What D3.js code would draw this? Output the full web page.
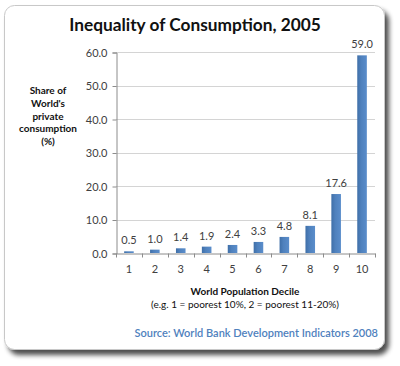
<!DOCTYPE html>
<html><head><meta charset="utf-8">
<script src="https://cdn.jsdelivr.net/npm/d3@7"></script>
<style>body{margin:0;background:#fff;}svg{display:block;font-family:Lato,"Open Sans",sans-serif;}</style>
</head><body>
<svg id="c" width="400" height="366"></svg>
<script>
const deciles = ["1","2","3","4","5","6","7","8","9","10"];
const shares = [0.5, 1.0, 1.4, 1.9, 2.4, 3.3, 4.8, 8.1, 17.6, 59.0];
const yTicks = [0, 10, 20, 30, 40, 50, 60];
const yTitle = ["Share of", "World's", "private", "consumption", "(%)"];

const svg = d3.select("#c");
const defs = svg.append("defs");
const f = defs.append("filter").attr("id","sh").attr("x","-10%").attr("y","-10%").attr("width","130%").attr("height","130%");
f.append("feGaussianBlur").attr("in","SourceAlpha").attr("stdDeviation",2.5);
f.append("feOffset").attr("dx",4).attr("dy",5).attr("result","ob");
f.append("feComponentTransfer").append("feFuncA").attr("type","linear").attr("slope",0.7);
const m = f.append("feMerge"); m.append("feMergeNode"); m.append("feMergeNode").attr("in","SourceGraphic");
const g1 = defs.append("linearGradient").attr("id","bg").attr("x1",0).attr("x2",1).attr("y1",0).attr("y2",0);
g1.append("stop").attr("offset","0%").attr("stop-color","#3f6fa8");
g1.append("stop").attr("offset","40%").attr("stop-color","#4f81bd");
g1.append("stop").attr("offset","100%").attr("stop-color","#5a8dcb");

svg.append("rect").attr("x",4.5).attr("y",5.5).attr("width",380).attr("height",344).attr("rx",10)
  .attr("fill","#fff").attr("stroke","#c8c8c8").attr("filter","url(#sh)");

svg.append("text").attr("x",195).attr("y",31).attr("text-anchor","middle")
  .attr("font-size",17.3).attr("font-weight",700).attr("fill","#111").text("Inequality of Consumption, 2005");

const x = d3.scaleBand().domain(deciles).range([116, 375]).paddingInner(0.63).paddingOuter(0.315);
const y = d3.scaleLinear().domain([0, 60]).range([253, 52]);

// gridlines
svg.append("g").selectAll("line").data(yTicks.filter(d=>d>0)).join("line")
  .attr("x1",116).attr("x2",375).attr("y1",d=>Math.round(y(d))+0.5).attr("y2",d=>Math.round(y(d))+0.5)
  .attr("stroke","#d4d4d4");

// y axis
const ya = svg.append("g").attr("transform","translate(116.5,0.5)")
  .call(d3.axisLeft(y).tickValues(yTicks).tickFormat(d3.format(".1f")).tickSize(4).tickPadding(5));
ya.select(".domain").attr("stroke","#8c8c8c");
ya.selectAll(".tick line").attr("stroke","#8c8c8c");
ya.selectAll("text").attr("font-size",11).attr("fill","#404040").attr("font-family","Lato,sans-serif");

// bars
svg.append("g").selectAll("rect").data(shares).join("rect")
  .attr("x",(d,i)=>x(deciles[i])).attr("width",x.bandwidth())
  .attr("y",d=>y(d)).attr("height",d=>y(0)-y(d))
  .attr("fill","url(#bg)");

// x axis
const xa = svg.append("g").attr("transform","translate(0,253.5)")
  .call(d3.axisBottom(x).tickSize(0).tickPadding(12));
xa.select(".domain").attr("stroke","#8c8c8c");
xa.selectAll("text").attr("font-size",11).attr("fill","#404040").attr("font-family","Lato,sans-serif");
const bounds = d3.range(deciles.length+1).map(i=>116 + i*(375-116)/deciles.length);
xa.selectAll(".bt").data(bounds).join("line").attr("class","bt")
  .attr("x1",d=>Math.round(d)+0.5).attr("x2",d=>Math.round(d)+0.5).attr("y1",0).attr("y2",4).attr("stroke","#8c8c8c");

// value labels
svg.append("g").selectAll("text").data(shares).join("text")
  .attr("x",(d,i)=>x(deciles[i])+x.bandwidth()/2).attr("y",d=>y(d)-7)
  .attr("text-anchor","middle").attr("font-size",11).attr("fill","#404040")
  .text(d=>d.toFixed(1));

// y title
svg.append("text").attr("text-anchor","middle").attr("font-size",10).attr("font-weight",700).attr("fill","#111")
  .selectAll("tspan").data(yTitle).join("tspan")
  .attr("x",48).attr("y",(d,i)=>94 + i*12.8).text(d=>d);

// x title
svg.append("text").attr("x",245).attr("y",295).attr("text-anchor","middle").attr("font-size",10).attr("font-weight",700).attr("fill","#111")
  .text("World Population  Decile");
svg.append("text").attr("x",245).attr("y",308).attr("text-anchor","middle").attr("font-size",10).attr("fill","#111")
  .text("(e.g. 1 = poorest 10%, 2 = poorest 11-20%)");

svg.append("text").attr("x",378).attr("y",337).attr("text-anchor","end").attr("font-size",11).attr("font-weight",600).attr("fill","#4f81bd")
  .text("Source: World Bank Development Indicators 2008");
</script>
</body></html>
